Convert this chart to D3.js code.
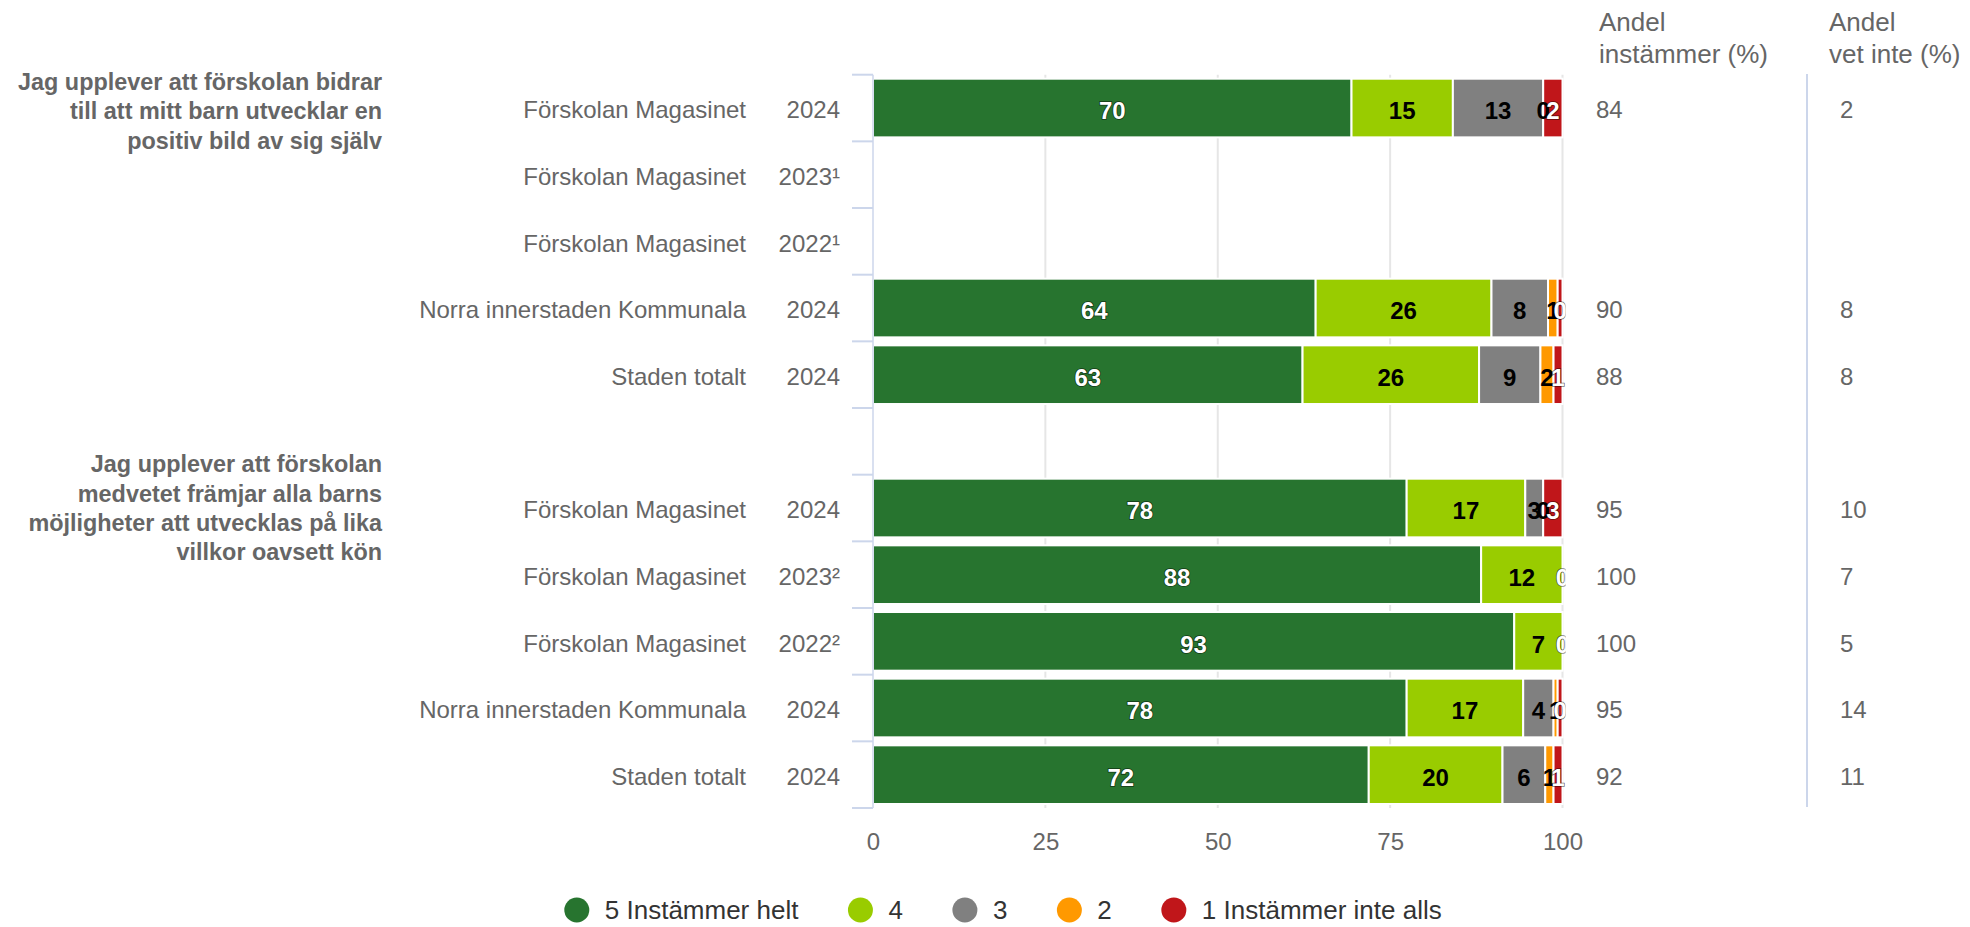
<!DOCTYPE html>
<html>
<head>
<meta charset="utf-8">
<script src="https://cdn.jsdelivr.net/npm/d3@7"></script>
<style>
  html, body { margin: 0; padding: 0; background: #fff; }
  svg { display: block; font-family: "Liberation Sans", Arial, Helvetica, sans-serif; }
</style>
</head>
<body>
<div id="chart"></div>
<script>
let WIDTH = 1970
let HEIGHT = 927

// rows (the empty row is the gap between the two questions)
let units = ["Förskolan Magasinet", "Förskolan Magasinet", "Förskolan Magasinet", "Norra innerstaden Kommunala", "Staden totalt", "",
             "Förskolan Magasinet", "Förskolan Magasinet", "Förskolan Magasinet", "Norra innerstaden Kommunala", "Staden totalt"]
let years = ["2024", "2023¹", "2022¹", "2024", "2024", "", "2024", "2023²", "2022²", "2024", "2024"]

let questions = [
    ["Jag upplever att förskolan bidrar", "till att mitt barn utvecklar en", "positiv bild av sig själv"],
    ["Jag upplever att förskolan", "medvetet främjar alla barns", "möjligheter att utvecklas på lika", "villkor oavsett kön"]
]
let questionRow = [0, 6]

// share of answers (bar length, %)
let share5 = [69.4, null, null, 64.2, 62.3, null, 77.4, 88.2, 93.0, 77.4, 71.9]
let share4 = [14.7, null, null, 25.5, 25.6, null, 17.2, 11.8, 7.0, 16.9, 19.4]
let share3 = [13.1, null, null, 8.2, 8.9, null, 2.6, 0, 0, 4.4, 6.2]
let share2 = [0, null, null, 1.4, 1.9, null, 0, 0, 0, 0.6, 1.2]
let share1 = [2.8, null, null, 0.7, 1.3, null, 2.8, 0, 0, 0.7, 1.3]

// numbers printed in the bars
let label5 = [70, null, null, 64, 63, null, 78, 88, 93, 78, 72]
let label4 = [15, null, null, 26, 26, null, 17, 12, 7, 17, 20]
let label3 = [13, null, null, 8, 9, null, 3, 0, 0, 4, 6]
let label2 = [0, null, null, 1, 2, null, 0, 0, 0, 1, 1]
let label1 = [2, null, null, 0, 1, null, 3, 0, 0, 0, 1]

let agree = [84, null, null, 90, 88, null, 95, 100, 100, 95, 92]
let dontKnow = [2, null, null, 8, 8, null, 10, 7, 5, 14, 11]

let seriesNames = ["5 Instämmer helt", "4", "3", "2", "1 Instämmer inte alls"]
let seriesColors = ["#27742f", "#99cc00", "#808080", "#ff9900", "#c0161a"]
let labelColors = ["#fff", "#000", "#000", "#000", "#fff"]
let xTicks = [0, 25, 50, 75, 100]

let keys = ["s5", "s4", "s3", "s2", "s1"]
let shares = [share5, share4, share3, share2, share1]
let labels = [label5, label4, label3, label2, label1]

let table = units.map((u, i) => {
    let row = {i: i, has: share5[i] !== null}
    keys.forEach((k, j) => { row[k] = shares[j][i] })
    return row
})

let svg = d3.select("#chart")
    .append("svg")
    .attr("width", WIDTH)
    .attr("height", HEIGHT)

let x = d3.scaleLinear().domain([0, 100]).range([873, 1562.5])
let y = d3.scaleBand().domain(d3.range(units.length)).range([74.7, 808])
let barH = y.step() * 0.88
let mid = (i) => y(i) + y.bandwidth() / 2

// grid lines
svg.append("g").selectAll("line")
    .data(xTicks.filter(t => t > 0))
    .join("line")
    .attr("x1", d => x(d)).attr("x2", d => x(d))
    .attr("y1", y.range()[0]).attr("y2", y.range()[1])
    .attr("stroke", "#e6e6e6")
    .attr("stroke-width", 2)

// x axis labels
let xAxis = svg.append("g")
    .attr("transform", `translate(0,${y.range()[1]})`)
    .call(d3.axisBottom(x).tickValues(xTicks).tickSize(0).tickPadding(25))
xAxis.select(".domain").remove()
xAxis.selectAll("text")
    .attr("fill", "#666")
    .style("font-size", "24px")
    .style("font-family", "inherit")

// stacked bars
let stack = d3.stack().keys(keys).value((d, k) => d[k] || 0)
let layers = stack(table)

let barG = svg.append("g")
layers.forEach((layer, j) => {
    barG.append("g")
        .selectAll("rect")
        .data(layer.filter(d => d.data.has && d[1] > d[0]))
        .join("rect")
        .attr("x", d => x(d[0]))
        .attr("width", d => x(d[1]) - x(d[0]))
        .attr("y", d => mid(d.data.i) - barH / 2)
        .attr("height", barH)
        .attr("fill", seriesColors[j])
        .attr("stroke", "#fff")
        .attr("stroke-width", 2)
})

// left axis line and category ticks
let axisG = svg.append("g")
axisG.append("line")
    .attr("x1", x(0)).attr("x2", x(0))
    .attr("y1", y.range()[0]).attr("y2", y.range()[1])
    .attr("stroke", "#ccd6eb")
    .attr("stroke-width", 1.5)
axisG.selectAll("line.tick")
    .data(d3.range(units.length + 1))
    .join("line")
    .attr("class", "tick")
    .attr("x1", x(0) - 21).attr("x2", x(0))
    .attr("y1", d => y.range()[0] + d * y.step())
    .attr("y2", d => y.range()[0] + d * y.step())
    .attr("stroke", "#ccd6eb")
    .attr("stroke-width", 2)

// data labels, clipped at the plot edge
svg.append("clipPath").attr("id", "plotclip")
    .append("rect")
    .attr("x", x(0)).attr("y", 0)
    .attr("width", x(100) - x(0) + 3).attr("height", HEIGHT)

let labelG = svg.append("g").attr("clip-path", "url(#plotclip)")
layers.forEach((layer, j) => {
    let pts = layer.filter(d => {
        if (!d.data.has) return false
        let i = d.data.i
        if (labels[j][i] === null) return false
        // a zero segment sharing its spot with the next zero segment gets no label
        if (d[1] - d[0] === 0 && j < keys.length - 1 && (shares[j + 1][i] || 0) === 0) return false
        return true
    })
    labelG.append("g")
        .selectAll("text")
        .data(pts)
        .join("text")
        .attr("x", d => x((d[0] + d[1]) / 2))
        .attr("y", d => mid(d.data.i) + 3)
        .attr("dy", "0.35em")
        .attr("text-anchor", "middle")
        .attr("fill", labelColors[j])
        .attr("stroke", labelColors[j] === "#fff" ? "rgba(0,0,0,0.55)" : "none")
        .attr("stroke-width", 1.6)
        .attr("paint-order", "stroke")
        .style("font-size", "24px")
        .style("font-weight", "bold")
        .text(d => labels[j][d.data.i])
})

// row labels
let rowG = svg.append("g")
    .attr("fill", "#666")
    .style("font-size", "24px")
rowG.selectAll("text.unit")
    .data(units.map((u, i) => ({u, i})).filter(d => d.u))
    .join("text")
    .attr("class", "unit")
    .attr("x", 746)
    .attr("y", d => mid(d.i) + 2)
    .attr("dy", "0.35em")
    .attr("text-anchor", "end")
    .text(d => d.u)
rowG.selectAll("text.year")
    .data(years.map((t, i) => ({t, i})).filter(d => d.t))
    .join("text")
    .attr("class", "year")
    .attr("x", 840)
    .attr("y", d => mid(d.i) + 2)
    .attr("dy", "0.35em")
    .attr("text-anchor", "end")
    .text(d => d.t)

// question labels
let lineH = 29.3
let questionShift = [3, 0]
questions.forEach((lines, q) => {
    let cy = mid(questionRow[q]) + questionShift[q]
    let top = cy - (lines.length - 1) * lineH / 2
    svg.append("g")
        .selectAll("text")
        .data(lines)
        .join("text")
        .attr("x", 382)
        .attr("y", (d, k) => top + k * lineH)
        .attr("dy", "0.35em")
        .attr("text-anchor", "end")
        .attr("fill", "#666")
        .style("font-size", "23.4px")
        .style("font-weight", "bold")
        .text(d => d)
})

// side columns
let colG = svg.append("g").attr("fill", "#666")
let headers = [
    {x: 1599, lines: ["Andel", "instämmer (%)"]},
    {x: 1829, lines: ["Andel", "vet inte (%)"]}
]
headers.forEach(h => {
    colG.append("g").selectAll("text")
        .data(h.lines)
        .join("text")
        .attr("x", h.x)
        .attr("y", (d, k) => 31 + k * 31.5)
        .style("font-size", "26px")
        .text(d => d)
})
let cols = [{x: 1596, vals: agree}, {x: 1840, vals: dontKnow}]
cols.forEach(c => {
    colG.append("g").selectAll("text")
        .data(c.vals.map((v, i) => ({v, i})).filter(d => d.v !== null))
        .join("text")
        .attr("x", c.x)
        .attr("y", d => mid(d.i) + 2)
        .attr("dy", "0.35em")
        .style("font-size", "24px")
        .text(d => d.v)
})
svg.append("line")
    .attr("x1", 1807).attr("x2", 1807)
    .attr("y1", 74).attr("y2", 807)
    .attr("stroke", "#ccd6eb")
    .attr("stroke-width", 2)

// legend
let legend = svg.append("g").attr("transform", "translate(0,910)")
let cursor = 0
seriesNames.forEach((name, j) => {
    let g = legend.append("g")
    g.append("circle").attr("r", 12.5).attr("fill", seriesColors[j])
    let t = g.append("text")
        .attr("x", 28)
        .attr("dy", "0.35em")
        .attr("fill", "#333")
        .style("font-size", "26px")
        .text(name)
    let w = t.node().getComputedTextLength()
    g.attr("transform", `translate(${cursor},0)`)
    cursor += 28 + w + 62
})
let total = cursor - 62 + 12.5
legend.attr("transform", `translate(${1003 - total / 2 + 12.5},910)`)
</script>
</body>
</html>
